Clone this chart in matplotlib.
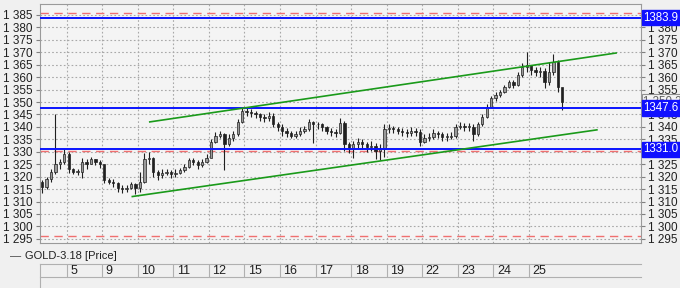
import matplotlib
matplotlib.use("Agg")
import matplotlib.pyplot as plt
from matplotlib.ticker import FuncFormatter, MultipleLocator

plt.rcParams['font.family'] = ['Liberation Sans', 'DejaVu Sans']

# day labels on the time axis (day 4 is only partly visible, no label)
day_labels = ['5', '9', '10', '11', '12', '15', '16', '17', '18', '19', '22', '23', '24', '25']
bars_per_day = 8

# price bars (first 6 bars belong to the partial day before "5")
first_open = 1318
closes = [
    1316, 1319, 1322, 1325, 1326, 1329,
    1323, 1322, 1322, 1326, 1325, 1327, 1326, 1325,
    1318.5, 1318, 1317.5, 1315.5, 1315, 1315.5, 1317, 1315.5,
    1318, 1327, 1327.5, 1322, 1320.5, 1321.5, 1322, 1321,
    1321.5, 1322.5, 1324, 1326.5, 1326, 1324.5, 1326, 1327.5,
    1334, 1336.5, 1337, 1333, 1335.5, 1337, 1342, 1346.5,
    1346, 1345.5, 1345, 1344, 1343.5, 1344.5, 1341, 1340,
    1338.5, 1337.5, 1336.5, 1337, 1338.5, 1339, 1342, 1341,
    1341, 1340, 1338.5, 1338, 1337.5, 1341.5, 1333, 1331.5,
    1333, 1334, 1333, 1332, 1332.5, 1330.5, 1331, 1339,
    1339.5, 1339, 1338.5, 1338, 1337.5, 1338.5, 1338, 1334,
    1335.5, 1336, 1337.5, 1337, 1336, 1336, 1336.5, 1340,
    1340.5, 1340, 1340, 1337, 1341, 1344, 1348, 1351.5,
    1353, 1354, 1356, 1358, 1357, 1361, 1364, 1365,
    1363, 1362, 1362.5, 1358, 1362, 1366, 1356, 1350.2,
]
highs = [
    1318.5, 1320, 1323, 1345, 1327, 1331,
    1330, 1323.5, 1323, 1327.5, 1327, 1328, 1327, 1326.5,
    1324, 1319.5, 1319, 1318, 1316.5, 1316.5, 1318, 1317.5,
    1322, 1329.5, 1330, 1328, 1322.5, 1323, 1323, 1322.5,
    1323, 1323.5, 1325, 1327.5, 1327.5, 1326.5, 1327, 1329,
    1335, 1338, 1338.5, 1337.5, 1337, 1338.5, 1343, 1348,
    1347.5, 1347, 1346.5, 1345.5, 1345, 1346, 1345.5, 1342,
    1341, 1339.5, 1338.5, 1338.5, 1340, 1340.5, 1343, 1342.5,
    1342, 1341.5, 1340.5, 1339.5, 1339, 1343.5, 1342.5, 1334,
    1334.5, 1335.5, 1335, 1334, 1334.5, 1333.5, 1333, 1341,
    1341, 1340.5, 1340, 1339.5, 1339, 1340, 1339.5, 1339,
    1337, 1337.5, 1339, 1338.5, 1338, 1337.5, 1338, 1341,
    1342, 1341.5, 1341.5, 1341, 1342, 1345, 1349, 1352.5,
    1354, 1355, 1357, 1359, 1359, 1362, 1365.5, 1370,
    1365, 1364, 1364, 1363.5, 1366, 1369.5, 1367, 1352,
]
lows = [
    1313.5, 1315, 1318, 1321, 1323, 1325,
    1321.5, 1321, 1320.5, 1319.5, 1323, 1325, 1324.5, 1323.5,
    1317.5, 1317, 1316, 1314, 1313.5, 1314, 1315, 1313,
    1314, 1317.5, 1325, 1320, 1318.5, 1319.5, 1320.5, 1319.5,
    1320, 1321, 1322, 1323.5, 1324.5, 1323, 1324, 1325.5,
    1328, 1333.5, 1335.5, 1322.5, 1332.5, 1334.5, 1336.5, 1341.5,
    1344.5, 1344, 1343.5, 1342.5, 1342, 1342.5, 1340, 1338.5,
    1336.5, 1336, 1335.5, 1335.5, 1336.5, 1337.5, 1338.5, 1333.5,
    1339, 1338.5, 1337, 1336.5, 1336, 1337, 1330.5, 1329.5,
    1327.5, 1331.5, 1331, 1330, 1330.5, 1327, 1326.5, 1328,
    1337.5, 1337.5, 1337, 1336.5, 1336, 1336.5, 1336.5, 1332.5,
    1333.5, 1334.5, 1335, 1335.5, 1334.5, 1334.5, 1335, 1335.5,
    1339, 1338.5, 1338.5, 1334.5, 1336.5, 1340.5, 1343.5, 1347.5,
    1350.5, 1352, 1353.5, 1355.5, 1355.5, 1356.5, 1360, 1362,
    1361, 1360.5, 1360, 1355.5, 1357, 1361, 1354, 1346.8,
]

# horizontal levels
blue_levels = [1383.9, 1347.6, 1331.0]
red_levels = [1385.7, 1330.3, 1296.2]
last_price = 1350.2
# trend channel (x in days from "5", price)
upper_trend = [(2.34, 1342.0), (15.45, 1369.7)]
lower_trend = [(1.85, 1312.0), (14.91, 1338.8)]

bg = '#f0f0f0'
fig = plt.figure(figsize=(6.8, 2.88), dpi=100, facecolor=bg)
ax = fig.add_axes([39.5 / 680, 1 - 243.3 / 288, (641 - 39.5) / 680, (243.3 - 4) / 288])
ax.set_facecolor('#f4f4f4')

# bar x positions: partial first day uses slots 2..7
n_first = 6
xs = []
for i in range(len(closes)):
    if i < n_first:
        slot = bars_per_day - n_first + i
        xs.append(-1 + (slot + 0.5) / bars_per_day)
    else:
        j = i - n_first
        xs.append(j // bars_per_day + (j % bars_per_day + 0.5) / bars_per_day)

opens = [first_open] + closes[:-1]
ax.vlines(xs, lows, highs, color='#202020', lw=0.8, zorder=3)
for x, o, c in zip(xs, opens, closes):
    lo = min(o, c)
    h = max(abs(c - o), 0.25)
    fc = '#9a9a9a' if c >= o else '#202020'
    ax.bar(x, h, bottom=lo, width=0.065, color=fc, edgecolor='#202020', lw=0.5, zorder=4)

for lv in red_levels:
    ax.axhline(lv, color='#f07070', lw=1.0, ls=(0, (6, 4)), zorder=2)
for lv in blue_levels:
    ax.axhline(lv, color='#0a14ff', lw=1.4, zorder=5)

for seg in (upper_trend, lower_trend):
    ax.plot([seg[0][0], seg[1][0]], [seg[0][1], seg[1][1]], color='#1a9a1a', lw=1.2, zorder=5)

ax.set_xlim(-0.76, 16.15)
ax.set_ylim(1293.2, 1389.4)

# grid
for d in range(len(day_labels)):
    ax.axvline(d, color='#a8a8a8', lw=0.8, ls=(0, (1.5, 2)), zorder=1)
ax.yaxis.set_major_locator(MultipleLocator(5))
ax.grid(axis='y', color='#a8a8a8', lw=0.8, ls=(0, (1.5, 2)), zorder=1)
ax.set_axisbelow(True)
ax.set_xticks([])

fmt = FuncFormatter(lambda v, p: f"{int(round(v)):,}".replace(',', ' '))
ax.yaxis.set_major_formatter(fmt)
ax.tick_params(axis='y', which='both', left=True, right=True, labelleft=True, labelright=True,
               labelsize=8.5, length=3, color='#808080', pad=2, labelcolor='#202020')
for sp in ax.spines.values():
    sp.set_color('#9a9a9a')
    sp.set_linewidth(0.8)

# price boxes on right
for lv in blue_levels:
    ax.text(1.004, lv, f"{lv:.1f}", transform=ax.get_yaxis_transform(), va='center', ha='left',
            fontsize=8.3, color='white', zorder=10, clip_on=False,
            bbox=dict(boxstyle='square,pad=0.15', fc='#1010ff', ec='#1010ff'))
ax.text(1.004, last_price, "1 350.2", transform=ax.get_yaxis_transform(), va='center', ha='left',
        fontsize=8.3, color='#606060', zorder=9, clip_on=False,
        bbox=dict(boxstyle='square,pad=0.15', fc='#f4f4f4', ec='#909090', lw=0.8))

# legend line
fig.text(10 / 680, 1 - 256 / 288, '—', fontsize=8, color='#404040', va='center', ha='left')
fig.text(25 / 680, 1 - 256 / 288, 'GOLD-3.18 [Price]', fontsize=8, color='#202020',
         va='center', ha='left')

# date row
dax = fig.add_axes([39.5 / 680, 1 - 277 / 288, (641 - 39.5) / 680, 13 / 288])
dax.set_facecolor(bg)
dax.set_xlim(-0.76, 16.15)
dax.set_ylim(0, 1)
dax.set_xticks([])
dax.set_yticks([])
for sp in ['left', 'right']:
    dax.spines[sp].set_visible(False)
for sp in ['top', 'bottom']:
    dax.spines[sp].set_color('#b0b0b0')
    dax.spines[sp].set_linewidth(0.8)
for d, lab in enumerate(day_labels):
    dax.axvline(d, color='#b0b0b0', lw=0.8)
    dax.text(d + 0.1, 0.45, lab, fontsize=9, color='#202020', va='center', ha='left')
fig.add_artist(plt.Line2D([39.5 / 680, 39.5 / 680], [0, 1 - 264 / 288], color='#b0b0b0', lw=0.8))

fig.savefig('out.png', dpi=100, facecolor=bg)
